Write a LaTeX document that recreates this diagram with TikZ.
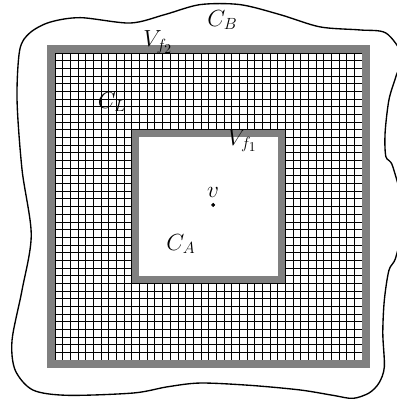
\documentclass[tikz,border=0pt]{standalone}
\usetikzlibrary{positioning}

\newcommand*{\gmin}{0}
\newcommand*{\gmax}{40}
\newcommand*{\hmin}{11}
\newcommand*{\hmax}{29}

\begin{document}
\begin{tikzpicture}
[
	frame/.style={draw=gray,line width=0.2cm},
	lbl/.style={inner sep=1pt,font=\LARGE},
	closedpt/.style={circle,draw,fill,inner sep=0pt,minimum size=2.5pt},
	x=0.2cm,y=0.2cm
]
	\useasboundingbox (-7.17,-5.08) rectangle (44.43,46.9);

	% boundary curve
	\draw[line width=1pt] plot[smooth cycle] coordinates {
		(-3.3,42.6) (-0.7,44.0) (3.3,44.6) (9.8,43.9) (14.3,45.0)
		(18.9,46.3) (24.1,46.3) (29.3,45.0) (34.5,43.4) (39.7,43.0)
		(43.1,42.6) (45.2,39.7) (44.4,36.9)
		(43.5,33.9) (43.0,29.6) (43.1,26.5) (44.0,25.2) (45.5,18.9)
		(44.4,13.4) (43.5,11.7) (42.9,7.8) (42.7,3.5) (42.9,-0.9)
		(42.2,-3.0) (40.9,-4.3) (38.8,-5.0) (36.2,-4.6) (31.9,-3.9)
		(25.4,-3.3) (18.9,-3.0) (14.6,-3.5) (10.2,-4.3) (1.6,-4.6)
		(-2.9,-3.9) (-5.2,-1.3) (-5.6,2.6) (-4.3,9.1) (-3.1,16.3)
		(-4.3,24.8) (-4.95,33.9) (-4.6,40.4)
	};

	% grid
	\draw[step=1,line width=0.5pt] (\gmin,\gmin) grid (\gmax,\gmax);

	% hole
	\fill[white] (\hmin,\hmin) rectangle (\hmax,\hmax);

	% frames
	\draw[frame] (\gmin-0.5,\gmin-0.5) rectangle (\gmax+0.5,\gmax+0.5);
	\draw[frame] (\hmin-0.5,\hmin-0.5) rectangle (\hmax+0.5,\hmax+0.5);

	% labels
	\node[lbl] (cb) at (21.8,44.3) {$C_B$};
	\node[lbl] (vf2) at (13.4,41.4) {$V_{f_2}$};
	\node[lbl] (cl) at (7.4,33.6) {$C_L$};
	\node[lbl] (vf1) at (24.4,28.6) {$V_{f_1}$};
	\node[lbl] (ca) at (16.4,15.1) {$C_A$};
	\node[closedpt] (v) at (20.6,20.2) {};
	\node[lbl,above=3pt of v] (vl) {$v$};

\end{tikzpicture}
\end{document}
